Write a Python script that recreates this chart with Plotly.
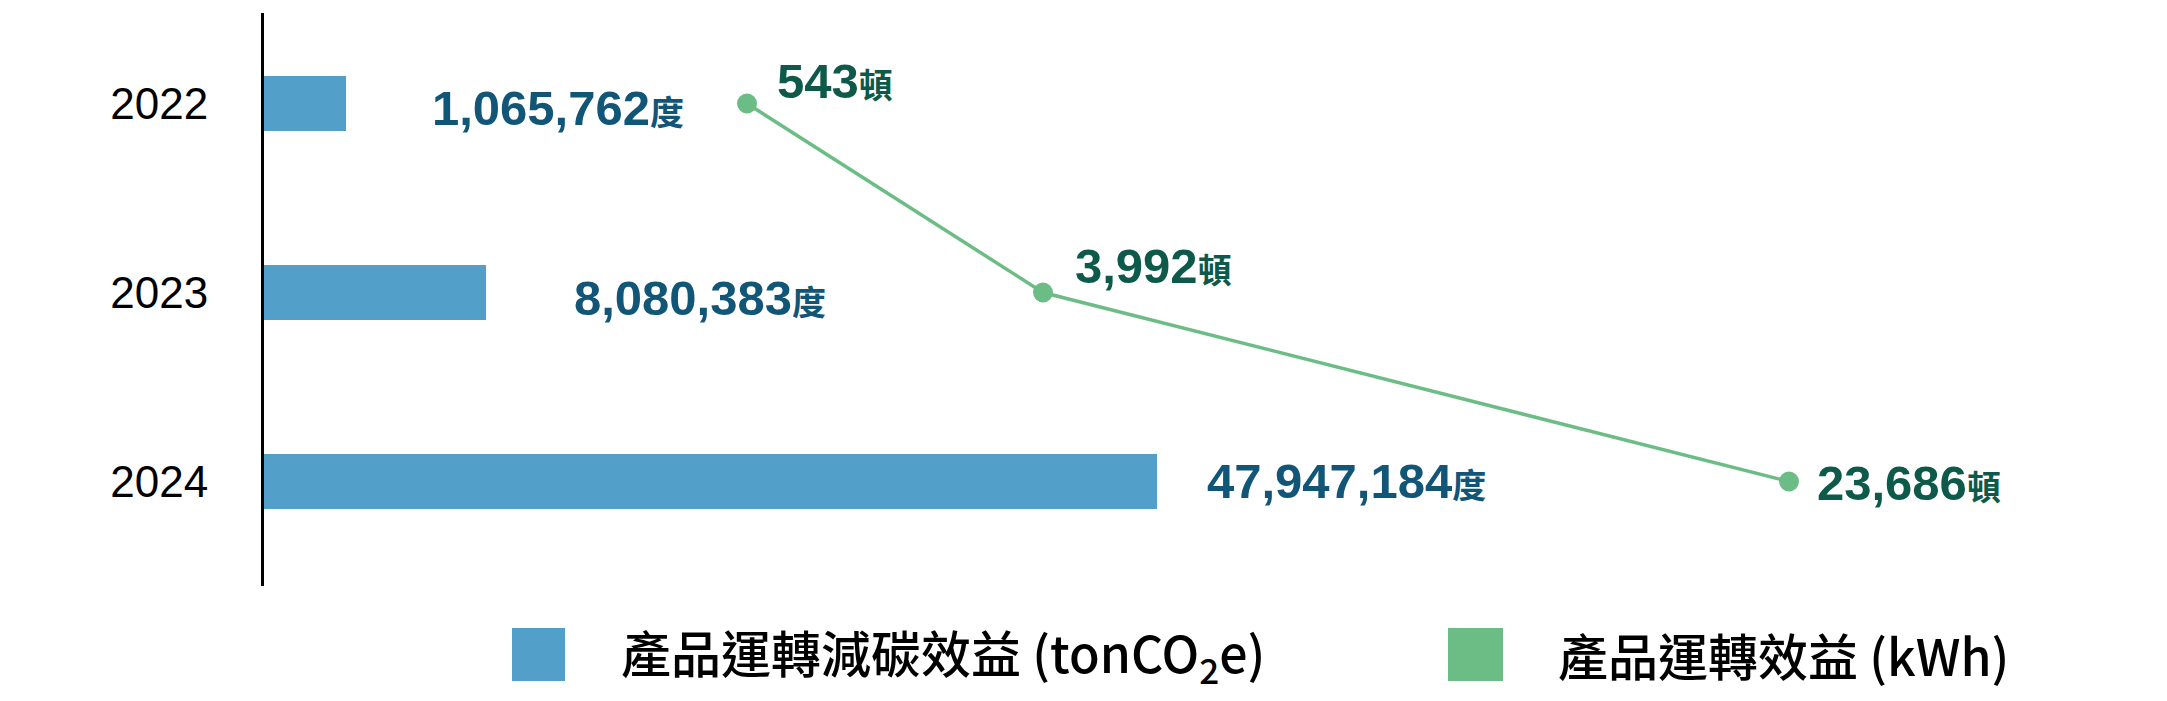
import plotly.graph_objects as go

# ---- data ----
years = ["2022", "2023", "2024"]
bar_labels_values = [1065762, 8080383, 47947184]   # 度
line_labels_values = [543, 3992, 23686]            # 頓
# drawn lengths / positions as they appear in the picture (display units)
bar_length = [82, 222, 893]
line_position = [483, 779, 1525]
legend_names = ["產品運轉減碳效益 (tonCO<sub>2</sub>e)", "產品運轉效益 (kWh)"]

BAR_COLOR = "#529fc9"
LINE_COLOR = "#6cbd85"
BAR_TEXT = "#115577"
LINE_TEXT = "#0e5a4a"
NUM_FONT = "Liberation Sans, Noto Sans CJK TC, sans-serif"
CJK_FONT = "Noto Sans CJK TC"

OFF = 8  # page body margin
W, H = 2167 - OFF, 701 - OFF
ML, MR, MT, MB = 264 - OFF, 0, 13 - OFF, 115

fig = go.Figure()
fig.add_trace(go.Bar(
    y=years, x=bar_length, orientation="h", width=0.29,
    marker=dict(color=BAR_COLOR, line=dict(width=0)),
    showlegend=False, hoverinfo="skip",
))
fig.add_trace(go.Scatter(
    y=years, x=line_position, mode="lines+markers",
    line=dict(color=LINE_COLOR, width=3.5),
    marker=dict(color=LINE_COLOR, size=20),
    showlegend=False, hoverinfo="skip",
))

bar_xshift = [84, 86, 48]
bar_yshift = [-4, -5, 0]
for i, y in enumerate(years):
    fig.add_annotation(
        x=bar_length[i], y=i, xref="x", yref="y",
        text="<b>" + f"{bar_labels_values[i]:,}" + "<span style=\"font-size:34px\">度</span></b>",
        showarrow=False, xanchor="left", yanchor="middle",
        xshift=bar_xshift[i], yshift=bar_yshift[i],
        font=dict(family=NUM_FONT, size=49, color=BAR_TEXT),
    )

line_xshift = [28, 30, 26]
line_yshift = [23, 27, -2]
for i, y in enumerate(years):
    fig.add_annotation(
        x=line_position[i], y=i, xref="x", yref="y",
        text="<b>" + f"{line_labels_values[i]:,}" + "<span style=\"font-size:34px\">頓</span></b>",
        showarrow=False, xanchor="left", yanchor="middle",
        xshift=line_xshift[i], yshift=line_yshift[i],
        font=dict(family=NUM_FONT, size=49, color=LINE_TEXT),
    )

# legend drawn manually (large square swatches); positions in page pixels
pw = W - ML - MR
ph = H - MT - MB
def px_x(px):
    return (px - OFF - ML) / pw
def px_y(py):
    return (H - MB - (py - OFF)) / ph

legend_items = [
    (BAR_COLOR, 512, 565, 619, legend_names[0]),
    (LINE_COLOR, 1448, 1503, 1556, legend_names[1]),
]
for color, x0, x1, tx, name in legend_items:
    fig.add_shape(type="rect", xref="paper", yref="paper",
                  x0=px_x(x0), x1=px_x(x1), y0=px_y(681), y1=px_y(628),
                  fillcolor=color, line=dict(width=0))
    fig.add_annotation(x=px_x(tx), y=px_y(654), xref="paper", yref="paper",
                       text=name, showarrow=False, xanchor="left", yanchor="middle",
                       font=dict(family=CJK_FONT, size=50, color="#000000", weight=500))

fig.update_layout(
    width=W, height=H,
    margin=dict(l=ML, r=MR, t=MT, b=MB),
    plot_bgcolor="white", paper_bgcolor="white",
    bargap=0.7,
    xaxis=dict(range=[0, pw], visible=False, fixedrange=True),
    yaxis=dict(
        type="category", categoryorder="array", categoryarray=years,
        range=[2.553, -0.479],
        showline=True, linecolor="#000000", linewidth=3,
        showgrid=False, zeroline=False, ticks="",
        ticklabelstandoff=44,
        tickfont=dict(family=NUM_FONT, size=44, color="#000000"),
    ),
)

fig.write_html("out.html")
